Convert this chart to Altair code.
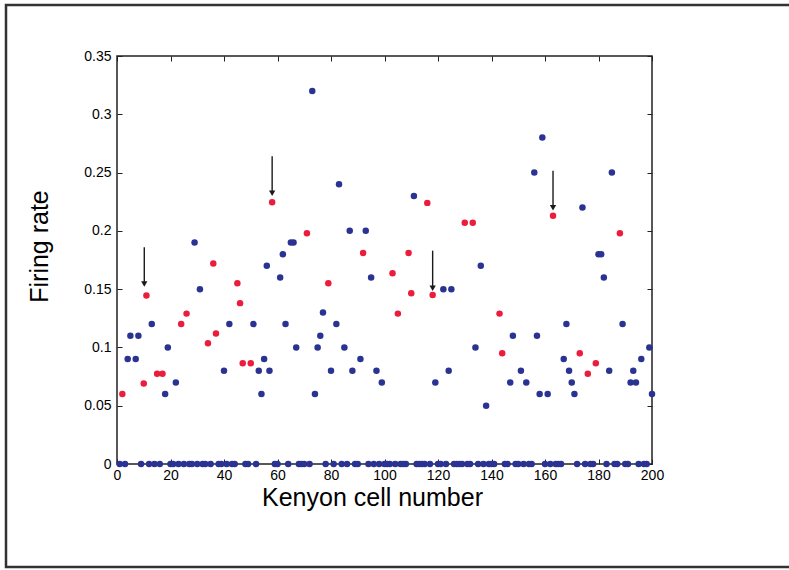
import altair as alt
import pandas as pd

# ---- data ----
blue_cells = [4, 7, 5, 8, 13, 18, 19, 22, 29, 31, 40, 42, 51, 53, 54, 55, 56, 57, 61, 62,
              63, 65, 66, 67, 73, 74, 75, 76, 77, 80, 82, 83, 85, 87, 88, 91, 93, 95, 97, 99,
              111, 119, 122, 124, 125, 134, 136, 138, 147, 148, 151, 153, 156, 157, 158, 159,
              161, 167, 168, 169, 170, 171, 174, 180, 181, 182, 184, 185, 189, 192, 193, 194,
              196, 199, 200]
blue_rates = [0.09, 0.09, 0.11, 0.11, 0.12, 0.06, 0.10, 0.07, 0.19, 0.15, 0.08, 0.12, 0.12, 0.08,
              0.06, 0.09, 0.17, 0.08, 0.16, 0.18, 0.12, 0.19, 0.19, 0.10, 0.32, 0.06, 0.10, 0.11,
              0.13, 0.08, 0.12, 0.24, 0.10, 0.20, 0.08, 0.09, 0.20, 0.16, 0.08, 0.07, 0.23, 0.07,
              0.15, 0.08, 0.15, 0.10, 0.17, 0.05, 0.07, 0.11, 0.08, 0.07, 0.25, 0.11, 0.06, 0.28,
              0.06, 0.09, 0.12, 0.08, 0.07, 0.06, 0.22, 0.18, 0.18, 0.16, 0.08, 0.25, 0.12, 0.07,
              0.08, 0.07, 0.09, 0.10, 0.06]

red_cells = [2, 10, 11, 15, 17, 24, 26, 34, 36, 37, 45, 46, 47, 50, 58, 71, 79, 92, 103, 105,
             109, 110, 116, 118, 130, 133, 143, 144, 163, 173, 176, 179, 188]
red_rates = [0.06, 0.069, 0.1445, 0.0775, 0.0775, 0.12, 0.129, 0.1035, 0.172, 0.112, 0.155,
             0.138, 0.0865, 0.0865, 0.2245, 0.198, 0.155, 0.181, 0.1636, 0.129, 0.181, 0.1465,
             0.224, 0.145, 0.207, 0.207, 0.129, 0.095, 0.213, 0.095, 0.0775, 0.0865, 0.198]

zero_cells = [1, 3, 9, 12, 14, 16, 20, 21, 23, 25, 27, 28, 30, 32, 33, 35, 38, 39, 41, 43, 44,
              48, 49, 52, 59, 60, 64, 68, 69, 70, 72, 78, 81, 84, 86, 89, 90, 94, 96, 98, 100,
              101, 102, 104, 106, 107, 108, 112, 113, 114, 115, 117, 120, 121, 123, 126, 127,
              128, 129, 131, 132, 135, 137, 139, 140, 141, 145, 146, 149, 150, 152, 154, 155,
              160, 162, 164, 165, 166, 172, 175, 177, 178, 183, 186, 187, 190, 191, 195, 197, 198]

arrow_cells = [10.2, 58, 118, 163]
arrow_top = [0.186, 0.264, 0.183, 0.2516]
arrow_head = [0.1544, 0.2322, 0.1507, 0.2198]

x_ticks = [0, 20, 40, 60, 80, 100, 120, 140, 160, 180, 200]
y_ticks = [0, 0.05, 0.1, 0.15, 0.2, 0.25, 0.3, 0.35]

BLUE = "#2b3392"
RED = "#ec1c3c"
FONT = "Liberation Sans"

pts = pd.DataFrame({
    "cell": blue_cells + zero_cells + red_cells,
    "rate": blue_rates + [0.0] * len(zero_cells) + red_rates,
    "group": ["blue"] * (len(blue_cells) + len(zero_cells)) + ["red"] * len(red_cells),
})
arrows = pd.DataFrame({"cell": arrow_cells, "top": arrow_top, "head": arrow_head})

xs = alt.Scale(domain=[0, 200], nice=False, zero=False)
ys = alt.Scale(domain=[0, 0.35], nice=False)

x_bottom = alt.Axis(orient="bottom", values=x_ticks, title="Kenyon cell number",
                    titleX=255, titleY=46, titleBaseline="alphabetic",
                    titleAlign="center", labelPadding=4, labelFlush=False)
y_left = alt.Axis(orient="left", values=y_ticks, format="~g", title="Firing rate",
                  titleX=-83, titleY=190, titleBaseline="middle", titleAlign="center",
                  titleAngle=-90, labelPadding=6, labelFlush=False)

points = alt.Chart(pts).mark_circle(size=42, opacity=1).encode(
    x=alt.X("cell:Q", scale=xs, axis=x_bottom),
    y=alt.Y("rate:Q", scale=ys, axis=y_left),
    color=alt.Color("group:N", scale=alt.Scale(domain=["blue", "red"], range=[BLUE, RED]),
                    legend=None),
    order=alt.Order("group:N"),
)

mirror = alt.Chart(pts).mark_circle(opacity=0).encode(
    x=alt.X("cell:Q", scale=xs,
            axis=alt.Axis(orient="top", values=x_ticks, labels=False, title=None)),
    y=alt.Y("rate:Q", scale=ys,
            axis=alt.Axis(orient="right", values=y_ticks, labels=False, title=None)),
)

arrow_lines = alt.Chart(arrows).mark_rule(color="#1a1a1a", strokeWidth=1.4).encode(
    x=alt.X("cell:Q", scale=xs, axis=None),
    y=alt.Y("top:Q", scale=ys, axis=None),
    y2="head:Q",
)
arrow_heads = alt.Chart(arrows).mark_point(shape="triangle-down", filled=True, size=40,
                                           color="#1a1a1a", opacity=1).encode(
    x=alt.X("cell:Q", scale=xs, axis=None),
    y=alt.Y("head:Q", scale=ys, axis=None),
)

frame = alt.Chart(pd.DataFrame({"k": [0]})).mark_rect(
    fill=None, stroke="#333333", strokeWidth=2.5
).encode(
    x=alt.value(-111), x2=alt.value(720), y=alt.value(-51), y2=alt.value(511)
)

chart = alt.layer(frame, mirror, arrow_lines, arrow_heads, points).resolve_axis(
    x="independent", y="independent"
).properties(
    width=535, height=408,
    autosize=alt.AutoSizeParams(type="none"),
    padding={"left": 117, "top": 56, "right": 137, "bottom": 106},
).configure_view(
    stroke="#222222", strokeWidth=1.5
).configure_axis(
    domain=False, grid=False, tickColor="#222222", tickSize=5, tickWidth=1, offset=-5,
    labelFont=FONT, labelFontSize=14, labelColor="#000000",
    titleFont=FONT, titleFontSize=25, titleFontWeight="normal", titleColor="#000000",
)

chart.save("out.html", embed_options={"renderer": "svg", "actions": False})
